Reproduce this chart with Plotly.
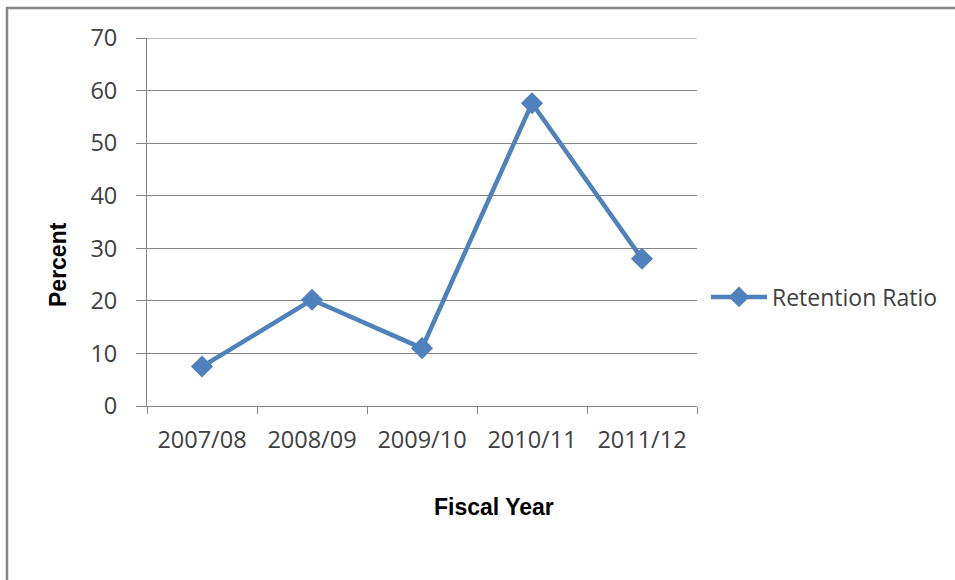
import plotly.graph_objects as go

# Retention ratio by fiscal year
fiscal_years = ["2007/08", "2008/09", "2009/10", "2010/11", "2011/12"]
retention_ratio = [7.5, 20.2, 11.0, 57.6, 28.0]
y_ticks = [0, 10, 20, 30, 40, 50, 60, 70]

W, H = 955, 580
L, R, T, B = 147, 258, 38, 174
pw, ph = W - L - R, H - T - B


def px_x(px):
    return (px - L) / pw


def px_y(py):
    return (H - B - py) / ph


blue = "#4F81BD"
grid = "#868686"
tick_font = dict(family="Open Sans", size=23.5, color="#404040")
legend_font = dict(family="Open Sans", size=23, color="#404040")
title_font = dict(family="Liberation Sans", size=23, color="#000000")

fig = go.Figure()
fig.add_trace(go.Scatter(
    x=fiscal_years,
    y=retention_ratio,
    mode="lines+markers",
    name="Retention Ratio",
    line=dict(color=blue, width=4.5),
    marker=dict(symbol="diamond", size=17, color=blue),
))

fig.update_layout(
    width=W, height=H,
    margin=dict(l=L, r=R, t=T, b=B, autoexpand=False),
    paper_bgcolor="white",
    plot_bgcolor="white",
    showlegend=True,
    legend=dict(
        x=px_x(706), y=px_y(297), xanchor="left", yanchor="middle",
        font=legend_font, itemwidth=56, bgcolor="rgba(0,0,0,0)",
    ),
    xaxis=dict(
        type="category",
        range=[-0.5, 4.5],
        tickson="boundaries",
        ticks="outside", ticklen=7, tickcolor=grid, tickwidth=1,
        showline=True, linecolor=grid, linewidth=1,
        showgrid=False, zeroline=False,
        tickfont=tick_font,
        ticklabelstandoff=13,
        fixedrange=True,
    ),
    yaxis=dict(
        range=[0, 70],
        tickvals=y_ticks,
        ticks="outside", ticklen=10, tickcolor=grid, tickwidth=1,
        showline=True, linecolor=grid, linewidth=1,
        showgrid=True, gridcolor=grid, gridwidth=1,
        zeroline=False,
        tickfont=tick_font,
        ticklabelstandoff=14,
        fixedrange=True,
    ),
    annotations=[
        dict(text="<b>Fiscal Year</b>", xref="paper", yref="paper",
             x=px_x(494), y=px_y(507), xanchor="center", yanchor="middle",
             showarrow=False, font=title_font),
        dict(text="<b>Percent</b>", xref="paper", yref="paper",
             x=px_x(58), y=px_y(265), xanchor="center", yanchor="middle",
             textangle=-90, showarrow=False, font=title_font),
    ],
    shapes=[
        # gridline at the top of the value range
        dict(type="line", xref="paper", yref="y",
             x0=0, x1=1, y0=y_ticks[-1], y1=y_ticks[-1],
             line=dict(color=grid, width=1)),
        # outer frame (left and top edges)
        dict(type="line", xref="paper", yref="paper",
             x0=px_x(7), y0=px_y(8), x1=px_x(7), y1=px_y(600),
             line=dict(color="#878787", width=2.5)),
        dict(type="line", xref="paper", yref="paper",
             x0=px_x(6), y0=px_y(8), x1=px_x(980), y1=px_y(8),
             line=dict(color="#878787", width=2.5)),
    ],
)

fig.write_html("out.html")
